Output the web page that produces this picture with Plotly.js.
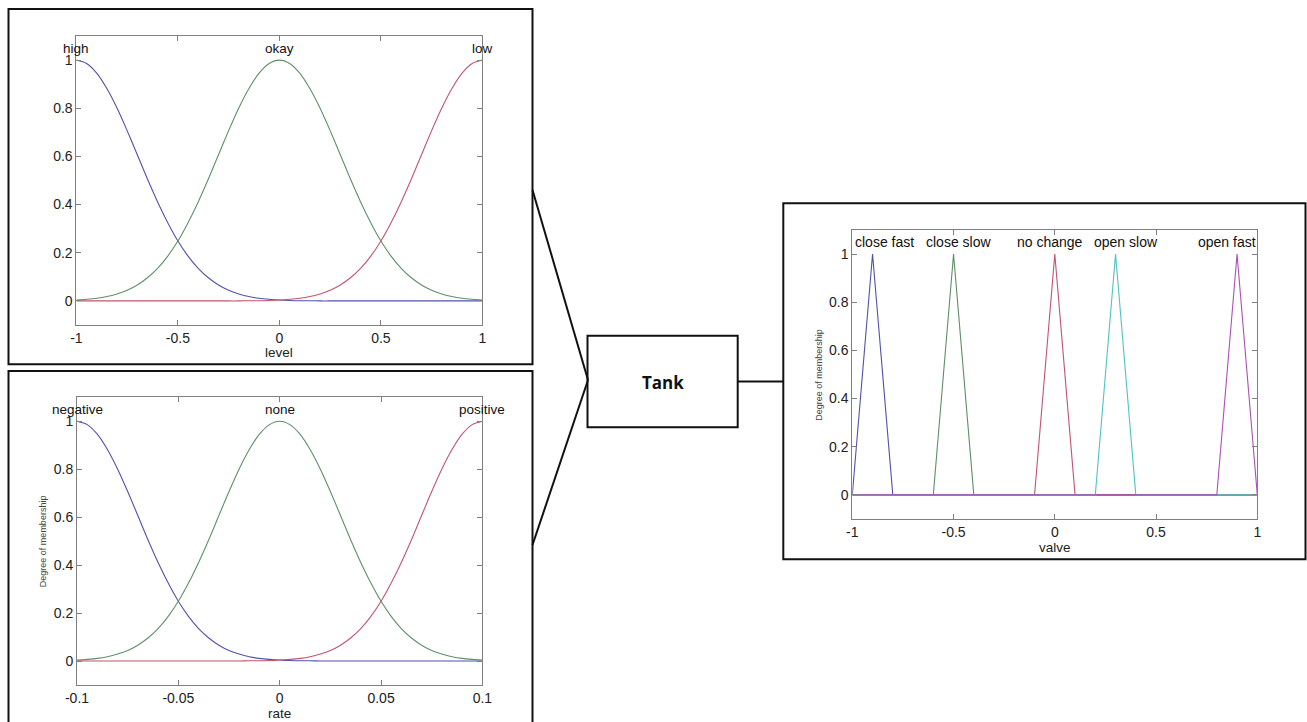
<!DOCTYPE html>
<html><head><meta charset="utf-8">
<script src="https://cdn.plot.ly/plotly-3.0.1.min.js"></script>
<style>html,body{margin:0;padding:0;background:#fff;}#chart{width:1307px;height:722px;}</style>
</head><body><div id="chart"></div>
<script>
// ---------- data ----------
const levelX = [-1,-0.95,-0.9,-0.85,-0.8,-0.75,-0.7,-0.65,-0.6,-0.55,-0.5,-0.45,-0.4,-0.35,-0.3,-0.25,-0.2,-0.15,-0.1,-0.05,0,0.05,0.1,0.15,0.2,0.25,0.3,0.35,0.4,0.45,0.5,0.55,0.6,0.65,0.7,0.75,0.8,0.85,0.9,0.95,1];
const levelHigh = [1.000,0.986,0.946,0.882,0.801,0.707,0.607,0.506,0.411,0.325,0.249,0.186,0.135,0.096,0.066,0.044,0.029,0.018,0.011,0.007,0.004,0.002,0.001,0.001,0,0,0,0,0,0,0,0,0,0,0,0,0,0,0,0,0];
const levelOkay = [0.004,0.007,0.011,0.018,0.029,0.044,0.066,0.096,0.135,0.186,0.249,0.325,0.411,0.506,0.607,0.707,0.801,0.882,0.946,0.986,1.000,0.986,0.946,0.882,0.801,0.707,0.607,0.506,0.411,0.325,0.249,0.186,0.135,0.096,0.066,0.044,0.029,0.018,0.011,0.007,0.004];
const levelLow = [0,0,0,0,0,0,0,0,0,0,0,0,0,0,0,0,0,0.001,0.001,0.002,0.004,0.007,0.011,0.018,0.029,0.044,0.066,0.096,0.135,0.186,0.249,0.325,0.411,0.506,0.607,0.707,0.801,0.882,0.946,0.986,1.000];

const rateX = [-0.1,-0.095,-0.09,-0.085,-0.08,-0.075,-0.07,-0.065,-0.06,-0.055,-0.05,-0.045,-0.04,-0.035,-0.03,-0.025,-0.02,-0.015,-0.01,-0.005,0,0.005,0.01,0.015,0.02,0.025,0.03,0.035,0.04,0.045,0.05,0.055,0.06,0.065,0.07,0.075,0.08,0.085,0.09,0.095,0.1];
const rateNegative = [1.000,0.986,0.946,0.882,0.801,0.707,0.607,0.506,0.411,0.325,0.249,0.186,0.135,0.096,0.066,0.044,0.029,0.018,0.011,0.007,0.004,0.002,0.001,0.001,0,0,0,0,0,0,0,0,0,0,0,0,0,0,0,0,0];
const rateNone = [0.004,0.007,0.011,0.018,0.029,0.044,0.066,0.096,0.135,0.186,0.249,0.325,0.411,0.506,0.607,0.707,0.801,0.882,0.946,0.986,1.000,0.986,0.946,0.882,0.801,0.707,0.607,0.506,0.411,0.325,0.249,0.186,0.135,0.096,0.066,0.044,0.029,0.018,0.011,0.007,0.004];
const ratePositive = [0,0,0,0,0,0,0,0,0,0,0,0,0,0,0,0,0,0.001,0.001,0.002,0.004,0.007,0.011,0.018,0.029,0.044,0.066,0.096,0.135,0.186,0.249,0.325,0.411,0.506,0.607,0.707,0.801,0.882,0.946,0.986,1.000];

const closeFastX = [-1,-0.9,-0.8,1];            const closeFastY = [0,1,0,0];
const closeSlowX = [-1,-0.6,-0.5,-0.4,1];       const closeSlowY = [0,0,1,0,0];
const noChangeX  = [-1,-0.1,0,0.1,1];           const noChangeY  = [0,0,1,0,0];
const openSlowX  = [-1,0.2,0.3,0.4,1];          const openSlowY  = [0,0,1,0,0];
const openFastX  = [-1,0.8,0.9,1];              const openFastY  = [0,0,1,0];

const levelNames = ['high','okay','low'];       const levelCenters = [-1,0,1];
const rateNames  = ['negative','none','positive']; const rateCenters = [-0.1,0,0.1];
const valveNames = ['close fast','close slow','no change','open slow','open fast'];
const valveCenters = [-0.9,-0.5,0,0.3,0.9];

const levelTickVals = [-1,-0.5,0,0.5,1];  const levelTickText = ['-1','-0.5','0','0.5','1'];
const rateTickVals = [-0.1,-0.05,0,0.05,0.1]; const rateTickText = ['-0.1','-0.05','0','0.05','0.1'];
const yTickVals = [0,0.2,0.4,0.6,0.8,1];  const yTickText = ['0','0.2','0.4','0.6','0.8','1'];

// ---------- styling ----------
const W = 1307, H = 722;
const px = v => v / W, py = v => 1 - v / H;
const C_BLUE = '#5252ad', C_GREEN = '#5f9068', C_RED = '#c2566c', C_CYAN = '#52c2c2', C_MAG = '#ad52b5';
const FONT = 'Liberation Sans, Arial, Helvetica, sans-serif';
const valveLabelShift = [12, 5, -5, 10, -10];

function ln(x, y, color, xa, ya) {
  return {x: x, y: y, type: 'scatter', mode: 'lines', xaxis: xa, yaxis: ya,
          line: {color: color, width: 1.1, shape: 'spline', smoothing: 0.8}, hoverinfo: 'skip', showlegend: false};
}
function lnLin(x, y, color, xa, ya) {
  return {x: x, y: y, type: 'scatter', mode: 'lines', xaxis: xa, yaxis: ya,
          line: {color: color, width: 1.1}, hoverinfo: 'skip', showlegend: false};
}

const traces = [
  ln(levelX, levelHigh, C_BLUE, 'x', 'y'),
  ln(levelX, levelOkay, C_GREEN, 'x', 'y'),
  ln(levelX, levelLow, C_RED, 'x', 'y'),
  ln(rateX, rateNegative, C_BLUE, 'x2', 'y2'),
  ln(rateX, rateNone, C_GREEN, 'x2', 'y2'),
  ln(rateX, ratePositive, C_RED, 'x2', 'y2'),
  lnLin(closeFastX, closeFastY, C_BLUE, 'x3', 'y3'),
  lnLin(closeSlowX, closeSlowY, C_GREEN, 'x3', 'y3'),
  lnLin(noChangeX, noChangeY, C_RED, 'x3', 'y3'),
  lnLin(openSlowX, openSlowY, C_CYAN, 'x3', 'y3'),
  lnLin(openFastX, openFastY, C_MAG, 'x3', 'y3')
];

function xax(domain, range, tv, tt, anchor) {
  return {domain: domain, range: range, tickvals: tv, ticktext: tt, anchor: anchor,
    ticks: 'inside', ticklen: 5, tickcolor: '#808080', tickwidth: 1, mirror: 'ticks',
    showline: true, linecolor: '#808080', linewidth: 1, showgrid: false, zeroline: false,
    tickfont: {family: FONT, size: 14, color: '#222'}, fixedrange: true};
}
function yax(domain, anchor) {
  return {domain: domain, range: [-0.1, 1.1], tickvals: yTickVals, ticktext: yTickText, anchor: anchor,
    ticks: 'inside', ticklen: 5, tickcolor: '#808080', tickwidth: 1, mirror: 'ticks',
    showline: true, linecolor: '#808080', linewidth: 1, showgrid: false, zeroline: false,
    tickfont: {family: FONT, size: 14, color: '#222'}, fixedrange: true};
}

const annotations = [];
levelNames.forEach((n, i) => annotations.push({text: n, x: levelCenters[i], y: 1.05, xref: 'x', yref: 'y',
  showarrow: false, xanchor: 'center', yanchor: 'middle', font: {family: FONT, size: 13.5, color: '#111'}}));
rateNames.forEach((n, i) => annotations.push({text: n, x: rateCenters[i], y: 1.05, xref: 'x2', yref: 'y2',
  showarrow: false, xanchor: 'center', yanchor: 'middle', font: {family: FONT, size: 13.5, color: '#111'}}));
valveNames.forEach((n, i) => annotations.push({text: n, x: valveCenters[i], y: 1.05, xref: 'x3', yref: 'y3',
  xshift: valveLabelShift[i], showarrow: false, xanchor: 'center', yanchor: 'middle', font: {family: FONT, size: 14, color: '#111'}}));

// axis titles
[['level', 'x domain', 'y domain', -27], ['rate', 'x2 domain', 'y2 domain', -28], ['valve', 'x3 domain', 'y3 domain', -28]].forEach(a =>
  annotations.push({text: a[0], x: 0.5, y: 0, xref: a[1], yref: a[2], yshift: a[3], showarrow: false,
    xanchor: 'center', yanchor: 'middle', font: {family: FONT, size: 13.5, color: '#222'}}));
[['x2 domain', 'y2 domain'], ['x3 domain', 'y3 domain']].forEach(a =>
  annotations.push({text: 'Degree of membership', x: 0, y: 0.5, xref: a[0], yref: a[1], xshift: -34, textangle: -90,
    showarrow: false, xanchor: 'center', yanchor: 'middle', font: {family: FONT, size: 9, color: '#444'}}));

// Tank label
annotations.push({text: '<b>Tank</b>', x: px(662.5), y: py(382), xref: 'paper', yref: 'paper', showarrow: false,
  xanchor: 'center', yanchor: 'middle', font: {family: 'Open Sans, Noto Sans, sans-serif', size: 17, color: '#111'}});

function rect(x0, y0, x1, y1) {
  return {type: 'rect', xref: 'paper', yref: 'paper', x0: px(x0), x1: px(x1), y0: py(y1), y1: py(y0),
    line: {color: '#111', width: 2}, fillcolor: 'rgba(0,0,0,0)', layer: 'above'};
}
function seg(x0, y0, x1, y1) {
  return {type: 'line', xref: 'paper', yref: 'paper', x0: px(x0), x1: px(x1), y0: py(y0), y1: py(y1),
    line: {color: '#111', width: 2}, layer: 'above'};
}
const shapes = [
  rect(8.5, 9, 532.5, 364.3),
  rect(8.5, 371, 532.5, 730),
  rect(783.3, 203.3, 1305.5, 559.3),
  rect(587.5, 335.7, 737.7, 427.3),
  seg(532.5, 190, 588, 380),
  seg(532.5, 545, 588, 380),
  seg(737.7, 381.5, 783.3, 381.5)
];

const layout = {
  width: W, height: H, margin: {l: 0, r: 0, t: 0, b: 0},
  paper_bgcolor: '#fff', plot_bgcolor: '#fff', showlegend: false,
  xaxis: xax([px(76.4), px(482.4)], [-1, 1], levelTickVals, levelTickText, 'y'),
  yaxis: yax([py(325), py(36)], 'x'),
  xaxis2: xax([px(77), px(482.4)], [-0.1, 0.1], rateTickVals, rateTickText, 'y2'),
  yaxis2: yax([py(685), py(397.3)], 'x2'),
  xaxis3: xax([px(852.3), px(1257.3)], [-1, 1], levelTickVals, levelTickText, 'y3'),
  yaxis3: yax([py(519), py(230)], 'x3'),
  annotations: annotations, shapes: shapes
};

Plotly.newPlot('chart', traces, layout, {staticPlot: true, displayModeBar: false});
</script>
</body></html>
